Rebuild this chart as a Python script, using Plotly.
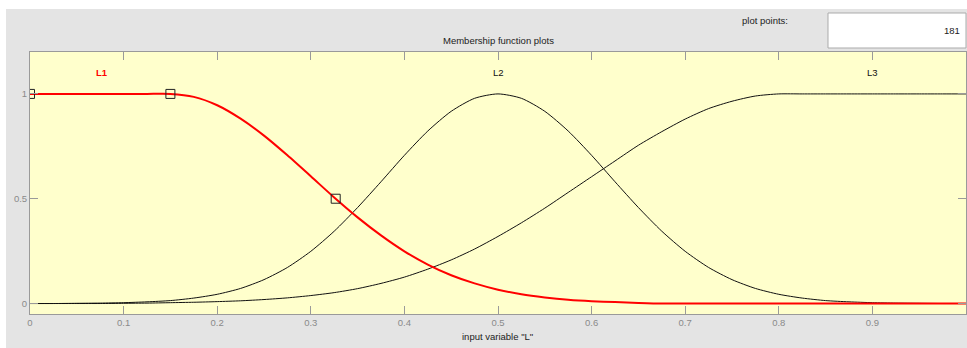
import plotly.graph_objects as go

# Membership function plots for input variable "L" (fuzzy editor view)

x_grid = [0, 0.025, 0.05, 0.075, 0.1, 0.125, 0.15, 0.175, 0.2, 0.225,
          0.25, 0.275, 0.3, 0.325, 0.35, 0.375, 0.4, 0.425, 0.45, 0.475,
          0.5, 0.525, 0.55, 0.575, 0.6, 0.625, 0.65, 0.675, 0.7, 0.725,
          0.75, 0.775, 0.8, 0.825, 0.85, 0.875, 0.9, 0.925, 0.95, 0.975, 1.0]

mf_L1 = [1, 1, 1, 1, 1, 1, 1, 0.986, 0.946, 0.882,
         0.801, 0.707, 0.607, 0.506, 0.411, 0.325, 0.249, 0.186, 0.135, 0.096,
         0.066, 0.044, 0.029, 0.018, 0.011, 0.007, 0.003, 0, 0, 0,
         0, 0, 0, 0, 0, 0, 0, 0, 0, 0, 0]

mf_L2 = [0, 0, 0.001, 0.002, 0.004, 0.008, 0.014, 0.026, 0.044, 0.072,
         0.114, 0.172, 0.249, 0.345, 0.458, 0.581, 0.707, 0.823, 0.917, 0.979,
         1.0, 0.979, 0.917, 0.823, 0.707, 0.581, 0.458, 0.345, 0.249, 0.172,
         0.114, 0.072, 0.044, 0.026, 0.014, 0.008, 0.004, 0.002, 0.001, 0, 0]

mf_L3 = [0, 0, 0, 0, 0.001, 0.002, 0.004, 0.006, 0.009, 0.013,
         0.019, 0.027, 0.038, 0.052, 0.071, 0.096, 0.126, 0.164, 0.208, 0.26,
         0.32, 0.385, 0.455, 0.53, 0.605, 0.68, 0.755, 0.82, 0.88, 0.93,
         0.965, 0.99, 1, 1, 1, 1, 1, 1, 1, 1, 1]

# edit handles on the selected MF (L1)
handle_x = [0, 0.15, 0.3266]
handle_y = [1, 1, 0.5]

mf_names = ["L1", "L2", "L3"]
label_x = [0.077, 0.5, 0.9]
label_y = [1.1, 1.1, 1.1]

x_ticks = [0, 0.1, 0.2, 0.3, 0.4, 0.5, 0.6, 0.7, 0.8, 0.9, 1]
x_ticktext = ["0", "0.1", "0.2", "0.3", "0.4", "0.5", "0.6", "0.7", "0.8", "0.9", "1"]
y_ticks = [0, 0.5, 1]
y_ticktext = ["0", "0.5", "1"]

plot_points = "181"

FIG_BG = "#E4E4E4"
AXES_BG = "#FFFFCC"
AXIS_GRAY = "#9A9A9A"
FONT = "Liberation Sans, Arial, sans-serif"

fig = go.Figure()

curve = dict(shape="spline", smoothing=0.7)
fig.add_trace(go.Scatter(x=x_grid, y=mf_L2, mode="lines", line=dict(color="#111111", width=1, **curve),
                         hoverinfo="skip", showlegend=False))
fig.add_trace(go.Scatter(x=x_grid, y=mf_L3, mode="lines", line=dict(color="#111111", width=1, **curve),
                         hoverinfo="skip", showlegend=False))
fig.add_trace(go.Scatter(x=x_grid, y=mf_L1, mode="lines", line=dict(color="#FF0000", width=2, **curve),
                         hoverinfo="skip", showlegend=False))
fig.add_trace(go.Scatter(x=handle_x, y=handle_y, mode="markers",
                         marker=dict(symbol="square-open", size=9, color="#222222", line=dict(width=1)),
                         hoverinfo="skip", showlegend=False))

# MF name labels
for name, lx, ly in zip(mf_names, label_x, label_y):
    sel = name == "L1"
    fig.add_annotation(x=lx, y=ly, xref="x", yref="y", text=f"<b>{name}</b>" if sel else name,
                       showarrow=False, font=dict(size=9.5, color="#FF0000" if sel else "#111111", family=FONT))

# paper coords: plot area spans x 30..966 px, y 52..314 px
def px_x(p):
    return (p - 30) / 936

def px_y(p):
    return (314 - p) / 262

shapes = [
    # white strips at top and left edge of the window
    dict(type="rect", xref="paper", yref="paper", x0=px_x(-10), x1=px_x(980), y0=px_y(9), y1=px_y(-10),
         fillcolor="white", line=dict(width=0), layer="below"),
    dict(type="rect", xref="paper", yref="paper", x0=px_x(-10), x1=px_x(6), y0=px_y(360), y1=px_y(-10),
         fillcolor="white", line=dict(width=0), layer="below"),
    # plot points edit box
    dict(type="rect", xref="paper", yref="paper", x0=px_x(828), x1=px_x(966), y0=px_y(48), y1=px_y(13),
         fillcolor="white", line=dict(width=1, color="#ABABAB")),
]

annotations = [
    dict(x=0.5, y=px_y(40.7), text="Membership function plots"),
    dict(x=px_x(790), y=px_y(20), text="plot points:"),
    dict(x=px_x(962), y=px_y(31), text=plot_points, xanchor="right"),
    dict(x=px_x(497), y=px_y(336), text='input variable "L"'),
]
for a in annotations:
    fig.add_annotation(xref="paper", yref="paper", showarrow=False, yanchor="middle",
                       font=dict(size=9.5, color="#222222", family=FONT), **a)

fig.update_layout(
    width=967, height=348,
    margin=dict(l=30, r=1, t=52, b=34),
    paper_bgcolor=FIG_BG,
    plot_bgcolor=AXES_BG,
    font=dict(family=FONT, size=9.5, color="#8A8A8A"),
    shapes=shapes,
    xaxis=dict(range=[0, 1], tickvals=x_ticks, ticktext=x_ticktext, ticks="inside", ticklen=8,
               tickcolor=AXIS_GRAY, showline=True, linecolor=AXIS_GRAY, mirror="ticks",
               showgrid=False, zeroline=False, fixedrange=True),
    yaxis=dict(range=[-0.05, 1.2], tickvals=y_ticks, ticktext=y_ticktext, ticks="inside", ticklen=8,
               tickcolor=AXIS_GRAY, showline=True, linecolor=AXIS_GRAY, mirror="ticks",
               showgrid=False, zeroline=False, fixedrange=True),
)

# page body has a default 8px margin; drop it so the figure fills the window
fig.write_html("out.html", config={"displayModeBar": False},
               post_script="document.body.style.margin='0';")
